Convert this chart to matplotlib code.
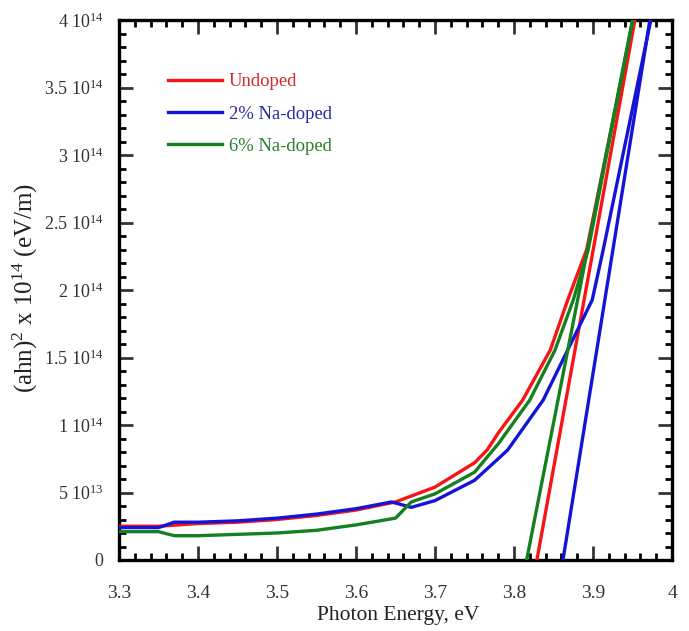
import matplotlib
matplotlib.use("Agg")
import matplotlib.pyplot as plt
from matplotlib.ticker import MultipleLocator, FixedLocator, FixedFormatter
import numpy as np

plt.rcParams['font.family'] = ['Liberation Serif', 'DejaVu Serif']
plt.rcParams['mathtext.fontset'] = 'custom'
plt.rcParams['mathtext.rm'] = 'Liberation Serif'
plt.rcParams['mathtext.it'] = 'Liberation Serif:italic'

SCALE = 1e14

# Undoped
x_undoped = [3.30, 3.35, 3.40, 3.45, 3.50, 3.55, 3.60, 3.65, 3.70, 3.75, 3.766, 3.78, 3.811, 3.846, 3.868, 3.892, 3.953]
y_undoped = [0.25, 0.25, 0.27, 0.28, 0.30, 0.33, 0.37, 0.43, 0.54, 0.72, 0.815, 0.94, 1.185, 1.556, 1.926, 2.30, 4.05]

# 2% Na-doped
x_na2 = [3.30, 3.35, 3.37, 3.40, 3.45, 3.50, 3.55, 3.60, 3.645, 3.67, 3.70, 3.75, 3.78, 3.792, 3.837, 3.868, 3.899, 3.913, 3.975]
y_na2 = [0.24, 0.24, 0.28, 0.28, 0.29, 0.31, 0.34, 0.38, 0.43, 0.39, 0.44, 0.59, 0.75, 0.815, 1.185, 1.556, 1.926, 2.30, 4.05]

# 6% Na-doped
x_na6 = [3.30, 3.35, 3.37, 3.40, 3.45, 3.50, 3.55, 3.60, 3.65, 3.67, 3.70, 3.75, 3.78, 3.820, 3.852, 3.875, 3.894, 3.952]
y_na6 = [0.21, 0.21, 0.18, 0.18, 0.19, 0.20, 0.22, 0.26, 0.31, 0.43, 0.49, 0.65, 0.86, 1.185, 1.556, 1.926, 2.30, 4.05]

# Tangent (Tauc) lines: x at y=0 and x at y=4e14
tangent_x0 = [3.829, 3.862, 3.816]
tangent_x1 = [3.953, 3.972, 3.950]
tangent_y = [0.0, 4.0]

labels = ['Undoped', '2% Na-doped', '6% Na-doped']
colors = ['#f81414', '#1414d8', '#148020']
text_colors = ['#d42a2a', '#2a2aa8', '#2a7f2a']

yticks = [0, 0.5, 1.0, 1.5, 2.0, 2.5, 3.0, 3.5, 4.0]
ytick_labels = ['0', r'5 10$^{13}$', r'1 10$^{14}$', r'1.5 10$^{14}$', r'2 10$^{14}$',
                r'2.5 10$^{14}$', r'3 10$^{14}$', r'3.5 10$^{14}$', r'4 10$^{14}$']
xticks = [3.3, 3.4, 3.5, 3.6, 3.7, 3.8, 3.9, 4.0]
xtick_labels = ['3.3', '3.4', '3.5', '3.6', '3.7', '3.8', '3.9', '4']

fig = plt.figure(figsize=(6.89, 6.31), dpi=100)
ax = fig.add_axes([119/689, 1-560/631, (672-119)/689, (560-20)/631])

series = [(x_undoped, y_undoped), (x_na2, y_na2), (x_na6, y_na6)]
handles = []
for i, (xs, ys) in enumerate(series):
    h, = ax.plot(xs, np.array(ys) * SCALE, color=colors[i], lw=2.4, label=labels[i],
                 solid_joinstyle='round', zorder=3 + i)
    handles.append(h)
    ax.plot([tangent_x0[i], tangent_x1[i]], np.array(tangent_y) * SCALE, color=colors[i],
            lw=2.4, zorder=3 + i)

ax.set_xlim(3.3, 4.0)
ax.set_ylim(0, 4.0 * SCALE)

ax.xaxis.set_major_locator(FixedLocator(xticks))
ax.xaxis.set_major_formatter(FixedFormatter(xtick_labels))
ax.xaxis.set_minor_locator(MultipleLocator(0.02))
ax.yaxis.set_major_locator(FixedLocator(np.array(yticks) * SCALE))
ax.yaxis.set_major_formatter(FixedFormatter(ytick_labels))
ax.yaxis.set_minor_locator(MultipleLocator(0.1 * SCALE))

ax.tick_params(which='both', direction='in', top=True, right=True, width=2, color='black')
ax.tick_params(which='major', length=10, colors='#333333')
ax.tick_params(axis='x', which='major', labelsize=14, pad=18)
ax.tick_params(axis='y', which='major', labelsize=13, pad=11)
ax.tick_params(which='minor', length=5)
for s in ax.spines.values():
    s.set_linewidth(2.4)

ax.set_xlabel('Photon Energy, eV', fontsize=15.5, color='#222222')
ax.xaxis.set_label_coords(0.505, -0.086)
ax.set_ylabel(r'(ahn)$^2$ x 10$^{14}$ (eV/m)', fontsize=18, color='#222222')
ax.yaxis.set_label_coords(-0.143, 0.504)

leg = ax.legend(handles=handles, loc='upper left', bbox_to_anchor=(0.076, 0.915),
                frameon=False, fontsize=13.4, handlelength=2.85, handletextpad=0.38,
                labelspacing=0.82, borderaxespad=0)
for t, c in zip(leg.get_texts(), text_colors):
    t.set_color(c)

fig.savefig('out.png', dpi=100)
